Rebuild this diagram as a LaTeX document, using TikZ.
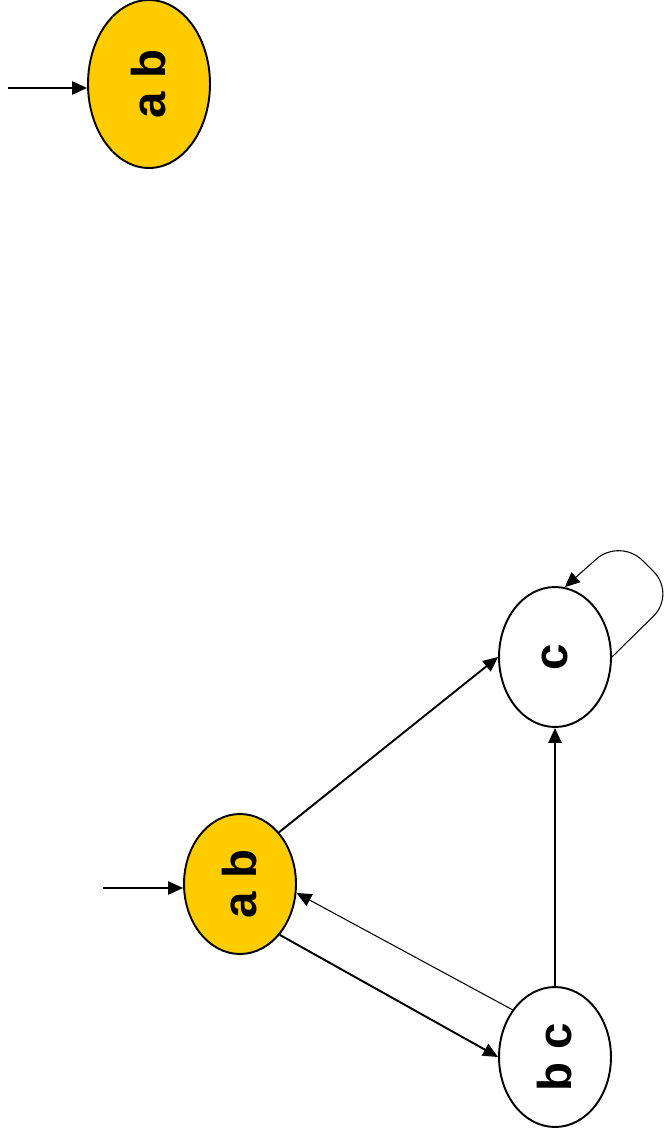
\documentclass[tikz,border=0pt]{standalone}
\usepackage{fontspec}
\setmainfont{Liberation Sans}
\usepackage{tikz}
\usetikzlibrary{shapes.geometric,
				arrows.meta}

\definecolor{stategold}{HTML}{FFCC00}

\tikzset{
	state/.style={draw, ellipse, line width=1.1pt, inner sep=0pt,
		minimum width=2.24cm, minimum height=2.8cm,
		font=\fontsize{27}{27}\selectfont\bfseries},
	initial/.style={fill=stategold},
	edge/.style={line width=1.1pt, -{Triangle[length=8.5pt, width=7.5pt]}},
	thinedge/.style={line width=0.6pt, -{Triangle[length=8.5pt, width=7.5pt]}}
}

\begin{document}
\begin{tikzpicture}[x=0.02cm, y=-0.02cm]

\useasboundingbox (0,0) rectangle (663,1142);

% the single start state
\node[state, initial, minimum width=2.44cm, minimum height=3.36cm] (ab1) at (149,84) {\rotatebox{90}{a b}};
\coordinate (start1) at (8,88);
\draw[edge] (start1) -- (start1 -| ab1.west);

% the three state automaton
\node[state, initial] (ab) at (240,884) {\rotatebox{90}{a b}};
\node[state] (c) at (555,657) {\rotatebox{90}{c}};
\node[state] (bc) at (555,1057) {\rotatebox{90}{b c}};

\coordinate (start2) at (103,888);
\draw[edge] (start2) -- (start2 -| ab.west);

\draw[edge] (ab.53) -- (c.west);
\draw[edge] (ab.-52) -- (bc.west);
\draw[thinedge] (bc.132) -- (ab.-9);
\draw[edge] (bc.north) -- (c.south);

% self loop on c
\draw[thinedge, rounded corners=18pt] (c.east) -- (676,594) -- (620,538) -- (c.82);

\end{tikzpicture}
\end{document}
